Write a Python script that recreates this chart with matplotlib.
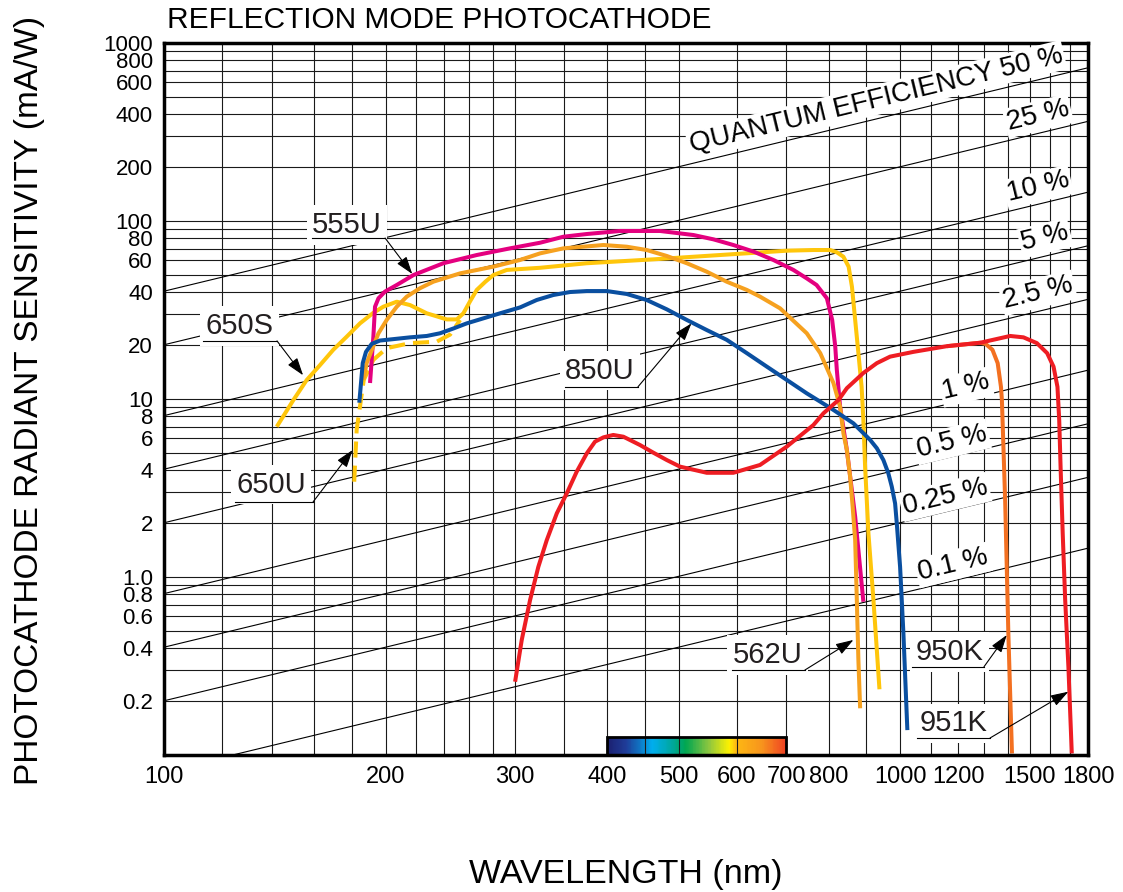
import numpy as np
import matplotlib.pyplot as plt
from matplotlib.colors import LinearSegmentedColormap, Normalize
from matplotlib.patches import Rectangle
from matplotlib.ticker import NullLocator

plt.rcParams['font.family'] = ['Liberation Sans', 'DejaVu Sans']

# spectral response curves, wavelength (nm) vs radiant sensitivity (mA/W)
wl_555u = [190.5, 192.5, 193.5, 195.6, 199.6, 207.1, 218.2, 239.6, 266, 295.2, 324.3, 348.8, 375.3,
           416.5, 472, 523.9, 557.5, 593.6, 632.9, 672.8, 716.2, 746.8, 770, 795.3, 808.6, 816.4,
           820.4, 828.9, 846.6, 868.9, 891.5]
s_555u = [12.3, 22.4, 33.0, 36.8, 40.1, 43.7, 49.7, 57.9, 64.4, 70.2, 75.5, 81.6, 84.5,
          87.9, 87.9, 83.4, 78.9, 73.3, 67.2, 60.4, 53.1, 47.6, 43.7, 36.8, 27.8, 19.7,
          14.6, 9.05, 5.17, 2.18, 0.726]

wl_562u = [186.6, 188.5, 191.5, 195.6, 200.7, 207.1, 213.7, 222.7, 232.2, 252.5, 280.2, 304.6, 324.3,
           348.8, 395.4, 425.3, 452.6, 482, 513.2, 546.2, 581.4, 619.1, 645.2, 687.1, 746.8, 779,
           811.8, 828.9, 837.5, 846.6, 855.3, 862.1, 868.9, 873.4, 877.7, 882.5]
s_562u = [12.8, 15.9, 18.8, 23.4, 27.8, 33.0, 37.6, 41.9, 45.6, 50.8, 55.4, 60.4, 65.8,
          70.2, 73.3, 71.7, 68.7, 63.6, 57.9, 51.9, 45.6, 41.0, 37.6, 32.3, 23.4, 18.1,
          12.3, 9.05, 6.42, 5.17, 3.66, 2.48, 1.61, 0.743, 0.342, 0.183]

wl_650s = [142.3, 149.9, 156.3, 162.9, 169.8, 177.1, 184.6, 192.5, 198.6, 207.1, 215.9, 227.5, 242.2,
           249.9, 255.1, 260.3, 266, 273.3, 280.2, 292.2, 324.3, 375.3, 462.3, 569.4, 701.5, 762.4,
           803.4, 820.4, 837.5, 851.3, 860.2, 868.9, 877.7, 886.6, 891.5, 896.3, 905.7, 920, 929.8,
           937.5]
s_650s = [6.99, 9.87, 12.8, 15.5, 18.9, 22.4, 26.6, 30.5, 33.0, 35.2, 33.7, 30.3, 28.0,
          28.0, 30.3, 35.2, 41.0, 45.6, 49.7, 53.1, 54.6, 57.9, 60.9, 64.4, 68.1, 68.7,
          68.7, 66.7, 63.0, 55.4, 42.7, 27.8, 18.1, 11.7, 7.62, 4.17, 1.76, 0.743, 0.389,
          0.234]

wl_650u = [181.3, 182.7, 184.6, 186.8, 192.5, 200.7, 215.9, 234.7, 244.7, 252.5]
s_650u = [3.43, 6.7, 9.05, 12.8, 16.6, 19.3, 20.6, 21.0, 23.0, 27.8]

wl_850u = [184.2, 185.0, 186.2, 188.1, 191.5, 196.5, 205, 215.9, 227.5, 237.1, 247.3, 257.8, 286.1,
           304.6, 320.9, 338, 356.1, 375.3, 399.6, 425.3, 452.6, 482, 513.2, 546.2, 581.4, 619.1,
           659.1, 701.5, 746.8, 779, 811.8, 864.1, 910.6, 929.8, 949.1, 963.8, 974.3, 984.5,
           989.7, 1000, 1010.4, 1023]
s_850u = [9.53, 11.7, 15.9, 18.4, 20.4, 21.3, 21.7, 22.2, 22.6, 23.4, 24.9, 26.6, 30.3,
          32.7, 36.0, 38.4, 39.9, 40.4, 40.4, 38.9, 36.0, 31.9, 27.8, 24.4, 21.5, 18.1,
          15.2, 12.8, 10.76, 9.66, 8.68, 7.30, 5.89, 5.29, 4.54, 3.83, 3.22, 2.59,
          2.00, 1.14, 0.483, 0.138]

wl_950k = [1157.3, 1284.3, 1306.6, 1335, 1357, 1371, 1375, 1382, 1389, 1403, 1419]
s_950k = [19.8, 20.7, 20.4, 18.9, 15.9, 11.7, 9.87, 5.17, 2.71, 0.483, 0.102]

wl_951k = [299.9, 306.2, 314.3, 322.5, 331.1, 341.7, 352.5, 363.7, 375.3, 385.1, 395.4, 407.7, 420.8,
           443.4, 462.3, 482, 502.3, 546.2, 593.6, 645.2, 701.5, 762.4, 786.8, 824.7, 846.6,
           891.5, 929.8, 969.2, 1042.6, 1157.3, 1284.3, 1411, 1471, 1534, 1584, 1616, 1636,
           1645, 1652, 1663, 1676, 1693, 1711]
s_951k = [0.258, 0.443, 0.743, 1.14, 1.61, 2.28, 2.95, 3.91, 4.95, 5.76, 6.09, 6.28, 6.14,
          5.51, 4.99, 4.54, 4.17, 3.85, 3.85, 4.26, 5.40, 7.14, 8.31, 9.87, 11.5,
          14.0, 15.9, 17.3, 18.4, 19.8, 20.7, 22.6, 22.2, 20.6, 18.1, 15.2, 11.7,
          7.62, 4.17, 1.77, 0.743, 0.313, 0.102]

# quantum efficiency reference lines (%)
qe_levels = [50, 25, 10, 5, 2.5, 1, 0.5, 0.25, 0.1]
qe_texts = ['QUANTUM EFFICIENCY 50 %', '25 %', '10 %', '5 %', '2.5 %', '1 %', '0.5 %', '0.25 %', '0.1 %']
HC_E = 1239.84  # nm * W / A

x_ticks = [100, 200, 300, 400, 500, 600, 700, 800, 1000, 1200, 1500, 1800]
y_ticks = [0.2, 0.4, 0.6, 0.8, 1, 2, 4, 6, 8, 10, 20, 40, 60, 80, 100, 200, 400, 600, 800, 1000]
y_ticklabels = ['0.2', '0.4', '0.6', '0.8', '1.0', '2', '4', '6', '8', '10', '20', '40', '60', '80',
                '100', '200', '400', '600', '800', '1000']
x_grid = [100, 120, 140, 160, 180, 200, 220, 240, 260, 280, 300, 350, 400, 450, 500,
          600, 700, 800, 900, 1000, 1100, 1200, 1300, 1400, 1500, 1600, 1700, 1800]
y_grid = [m * 10.0 ** e for e in range(-1, 3) for m in range(1, 10)] + [1000]

fig = plt.figure(figsize=(11.23, 8.92), dpi=100)
ax = fig.add_axes([164 / 1123, 1 - 755 / 892, 924 / 1123, 712 / 892])
ax.set_xscale('log')
ax.set_yscale('log')
ax.set_xlim(100, 1800)
ax.set_ylim(0.1, 1000)

for gx in x_grid:
    ax.axvline(gx, color='#1a1a1a', lw=0.8, zorder=1)
for gy in y_grid:
    ax.axhline(gy, color='#1a1a1a', lw=0.8, zorder=1)

# quantum efficiency lines
qe_x = np.array([100, 1800])
for q in qe_levels:
    ax.plot(qe_x, q / 100 * qe_x / HC_E * 1000, color='black', lw=0.8, zorder=2)

qe_pos = [(876, 100), (1038, 116), (1038, 187), (1045, 238), (1038, 293),
          (966, 387), (952, 442), (945, 497), (953, 565)]
for txt, (px, py) in zip(qe_texts, qe_pos):
    fig.text(px / 1123, 1 - py / 892, txt, fontsize=20, rotation=13.6, rotation_mode='anchor',
             ha='center', va='center', zorder=3,
             bbox=dict(facecolor='white', edgecolor='none', pad=1.5))

# spectrum bar 400-700 nm
spec = LinearSegmentedColormap.from_list('spec', [
    (0.0, '#1b2070'), (0.08, '#1f3c98'), (0.2, '#00aeef'), (0.3, '#00a79d'),
    (0.37, '#00a651'), (0.5, '#8dc63f'), (0.62, '#fff200'), (0.66, '#fdb913'),
    (0.83, '#f7941d'), (1.0, '#ef4123')])
bx = np.geomspace(400, 700, 200)
bc = 0.5 * (bx[:-1] + bx[1:])
ax.pcolormesh(bx, [0.1, 0.126], bc[np.newaxis, :], cmap=spec, norm=Normalize(400, 700),
              shading='flat', zorder=0.5)
ax.add_patch(Rectangle((400, 0.1), 300, 0.026, fill=False, edgecolor='black', lw=2, zorder=2))

lw = 2.9
kw = dict(lw=lw, solid_capstyle='butt', solid_joinstyle='round')
ax.plot(wl_650s, s_650s, color='#ffc60b', zorder=4, **kw)
ax.plot(wl_650u, s_650u, color='#ffc60b', lw=lw, ls=(0, (4, 2)), zorder=4)
ax.plot(wl_562u, s_562u, color='#f6a11f', zorder=4.2, **kw)
ax.plot(wl_555u, s_555u, color='#e4007f', zorder=4.1, **kw)
ax.plot(wl_850u, s_850u, color='#0a4fa0', zorder=4.3, **kw)
ax.plot(wl_950k, s_950k, color='#f37021', zorder=4.4, **kw)
ax.plot(wl_951k, s_951k, color='#ee1d23', zorder=4.5, **kw)

# curve labels: text centre, underline x-range and y, arrow tip (data coords)
labels = [
    ('555U', (177.3, 95.0), (158.8, 199.7), 80.2, (217.4, 50.4)),
    ('650S', (126.8, 25.7), (113.0, 142.4), 21.2, (154.5, 13.6)),
    ('650U', (139.8, 3.29), (124.9, 159.4), 2.64, (180.4, 5.17)),
    ('850U', (391.1, 14.4), (350.5, 440.4), 11.7, (520.6, 26.6)),
    ('562U', (660.9, 0.3645), (590.8, 742.3), 0.300, (864.1, 0.443)),
    ('950K', (1166, 0.379), (1038.3, 1300), 0.313, (1396, 0.472)),
    ('951K', (1183, 0.151), (1054.7, 1325), 0.1246, (1692.6, 0.2268)),
]
for name, txy, (u0, u1), uy, tip in labels:
    ax.text(txy[0], txy[1], name, fontsize=21, ha='center', va='center', color='#231f20', zorder=3,
            bbox=dict(facecolor='white', edgecolor='none', pad=4))
    ax.plot([u0, u1], [uy, uy], color='black', lw=0.8, zorder=5)
    ax.annotate('', xy=tip, xytext=(u1, uy), zorder=5,
                arrowprops=dict(arrowstyle='-|>,head_length=0.9,head_width=0.3',
                                mutation_scale=12, color='black', lw=0.8, shrinkA=0, shrinkB=0))

ax.set_xticks(x_ticks)
ax.set_xticklabels([str(v) for v in x_ticks])
ax.set_yticks(y_ticks)
ax.set_yticklabels(y_ticklabels)
ax.xaxis.set_minor_locator(NullLocator())
ax.yaxis.set_minor_locator(NullLocator())
ax.tick_params(axis='x', length=0, labelsize=17, pad=8)
ax.tick_params(axis='y', length=0, labelsize=16, pad=8)
for sp in ax.spines.values():
    sp.set_linewidth(2.5)
    sp.set_zorder(6)

fig.text(167 / 1123, 1 - 20 / 892, 'REFLECTION MODE PHOTOCATHODE', fontsize=21.5, ha='left', va='center')
fig.text(626 / 1123, 1 - 875 / 892, 'WAVELENGTH (nm)', fontsize=24.5, ha='center', va='center')
fig.text(30 / 1123, 1 - 400 / 892, 'PHOTOCATHODE RADIANT SENSITIVITY (mA/W)', fontsize=24,
         rotation=90, ha='center', va='center')

fig.savefig('out.png', dpi=100)
